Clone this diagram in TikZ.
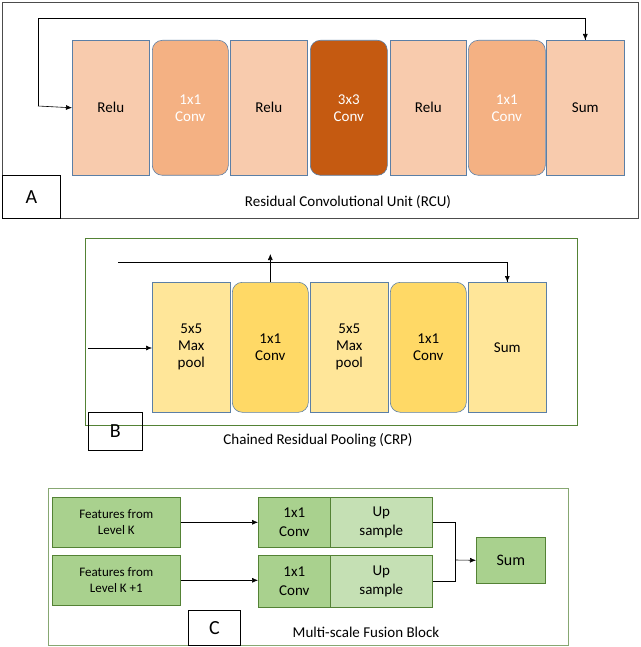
\documentclass[tikz,border=0pt]{standalone}
\usepackage{fontspec}
\setmainfont{Carlito}
\usetikzlibrary{arrows.meta}
\definecolor{aL}{HTML}{F8CBAD}\definecolor{aM}{HTML}{F4B183}\definecolor{aD}{HTML}{C55A11}
\definecolor{bL}{HTML}{FFE699}\definecolor{bM}{HTML}{FFD966}
\definecolor{cM}{HTML}{A9D18E}\definecolor{cL}{HTML}{C5E0B4}
\definecolor{edgeA}{HTML}{5B7FA6}\definecolor{gr}{HTML}{548235}
\begin{document}
\begin{tikzpicture}[x=1pt,y=-1pt,
 box/.style={draw=edgeA,line width=0.6pt,minimum width=#1,align=center,inner sep=0pt,font=\fontsize{15}{17}\selectfont},
 arr/.style={-{Latex[length=6pt,width=5pt]},line width=0.6pt},
 lbl/.style={draw,line width=0.8pt,font=\fontsize{20}{22}\selectfont,inner sep=0pt},
 captxt/.style={font=\fontsize{15}{17}\selectfont}]
\useasboundingbox (0,0) rectangle (640,647);
% Panel A
\draw[line width=0.8pt,draw=black!70] (2,2) rectangle (638,218);
\tikzset{bA/.style={box=77pt,minimum height=135pt,anchor=north west}}
\node[bA,fill=aL] (a1) at (72,40) {Relu};
\node[bA,fill=aM,rounded corners=10pt,minimum width=76pt,text=white] (a2) at (152,40) {1x1\\Conv};
\node[bA,fill=aL] (a3) at (230,40) {Relu};
\node[bA,fill=aD,rounded corners=10pt,text=white] (a4) at (310,40) {3x3\\Conv};
\node[bA,fill=aL,minimum width=76pt] (a5) at (390,40) {Relu};
\node[bA,fill=aM,rounded corners=10pt,text=white] (a6) at (468,40) {1x1\\Conv};
\node[bA,fill=aL,minimum width=78pt] (a7) at (546,40) {Sum};
\node[lbl,minimum width=58pt,minimum height=43pt,anchor=north west] (la) at (2,175) {A};
\node[captxt] (ca) at (348,202) {Residual Convolutional Unit (RCU)};
\coordinate (ain) at (38,106);
\coordinate (atop) at (38,18);
\draw[line width=0.6pt] (ain) -- (atop) -| (a7.north);
\draw[arr] (atop -| a7.north) -- (a7.north);
\draw[arr] (ain) -- (a1.west);
% Panel B
\draw[line width=0.8pt,draw=gr] (85,238) rectangle (577,425);
\tikzset{bB/.style={box=78pt,minimum height=130pt,anchor=north west}}
\node[bB,fill=bL] (b1) at (152,282) {5x5\\Max\\pool};
\node[bB,fill=bM,rounded corners=10pt,minimum width=76pt] (b2) at (232,282) {1x1\\Conv};
\node[bB,fill=bL] (b3) at (310,282) {5x5\\Max\\pool};
\node[bB,fill=bM,rounded corners=10pt,minimum width=76pt] (b4) at (390,282) {1x1\\Conv};
\node[bB,fill=bL] (b5) at (468,282) {Sum};
\node[lbl,minimum width=54pt,minimum height=38pt,anchor=north west] (lb) at (88,412) {B};
\node[captxt] (cb) at (318,440) {Chained Residual Pooling (CRP)};
\coordinate (bin) at (88,348);
\coordinate (bl) at (118,262);
\draw[arr] (bin) -- (b1.west |- bin);
\draw[line width=0.6pt] (bl) -| (b5.north);
\draw[arr] (bl -| b5.north) -- (b5.north);
\draw[arr] (b2.north) -- ++(0,-28);
% Panel C
\draw[line width=0.8pt,draw=gr!70] (48,488) rectangle (568,645);
\tikzset{bC/.style={box=#1,draw=gr,anchor=north west,font=\fontsize{13}{16}\selectfont}}
\node[bC=128pt,fill=cM,minimum height=50pt] (f1) at (52,497) {Features from\\Level K};
\node[bC=128pt,fill=cM,minimum height=50pt] (f2) at (52,555) {Features from\\Level K +1};
\node[bC=72pt,fill=cM,minimum height=50pt,font=\fontsize{15}{19}\selectfont] (c1) at (258,497) {1x1\\Conv};
\node[bC=102pt,fill=cL,minimum height=50pt,font=\fontsize{15}{19}\selectfont] (u1) at (330,497) {Up\\sample};
\node[bC=72pt,fill=cM,minimum height=52pt,font=\fontsize{15}{19}\selectfont] (c2) at (258,555) {1x1\\Conv};
\node[bC=102pt,fill=cL,minimum height=52pt,font=\fontsize{15}{19}\selectfont] (u2) at (330,555) {Up\\sample};
\node[bC=69pt,fill=cM,minimum height=46pt,font=\fontsize{16}{18}\selectfont] (s) at (476,537) {Sum};
\node[lbl,minimum width=52pt,minimum height=35pt,anchor=north west] (lc) at (188,610) {C};
\node[captxt] (cc) at (366,632) {Multi-scale Fusion Block};
\draw[arr] (f1.east) -- (c1.west);
\draw[arr] (f2.east) -- (c2.west |- f2.east);
\coordinate (j) at (455,560);
\draw[line width=0.6pt] (u1.east) -| (j);
\draw[line width=0.6pt] (u2.east) -| (j);
\draw[arr] (j) -- (s.west);
\end{tikzpicture}
\end{document}
